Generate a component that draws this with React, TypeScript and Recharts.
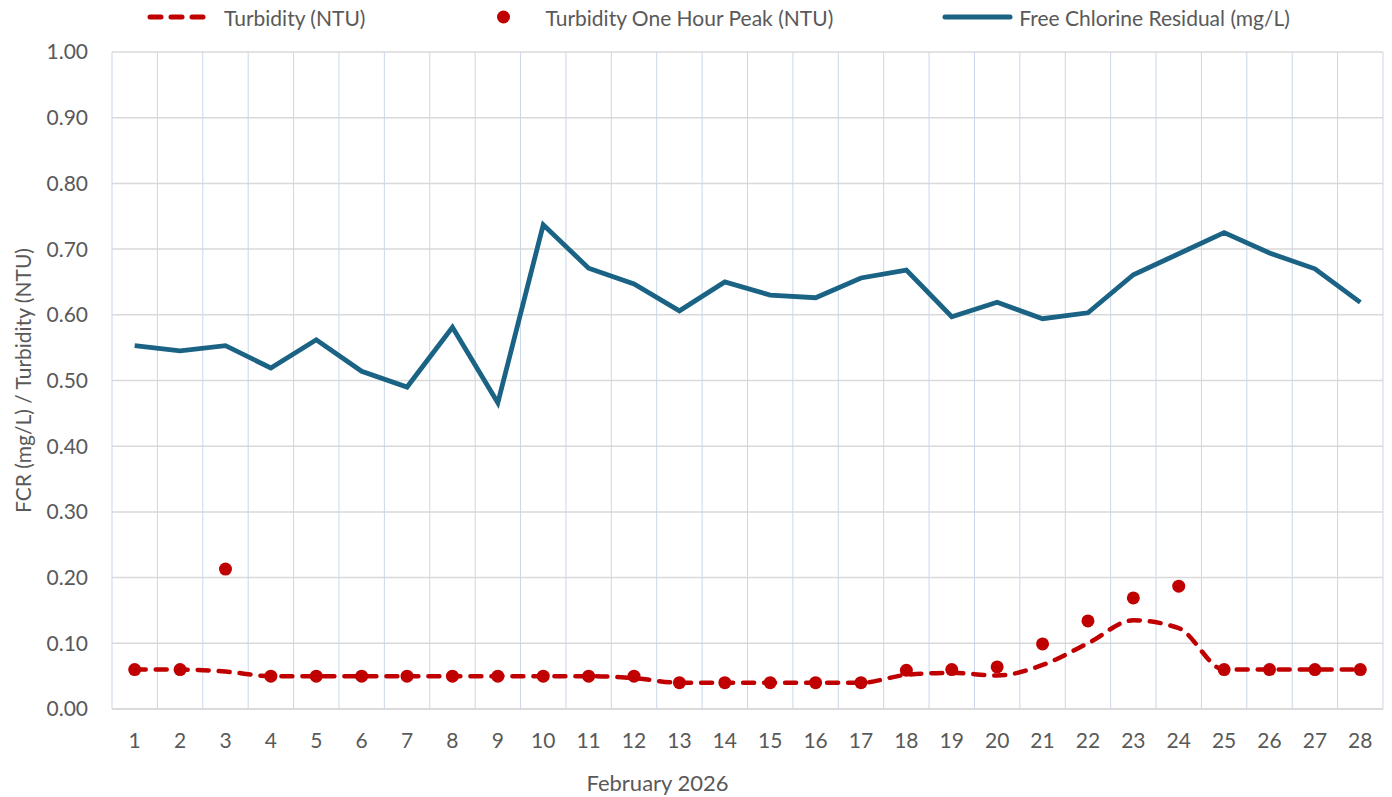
import React from "react";
import {
  ComposedChart,
  Line,
  XAxis,
  YAxis,
  CartesianGrid,
  Legend,
  Label,
} from "recharts";

const days = [
  "1", "2", "3", "4", "5", "6", "7", "8", "9", "10", "11", "12", "13", "14",
  "15", "16", "17", "18", "19", "20", "21", "22", "23", "24", "25", "26", "27", "28",
];

const turbidity = [
  0.06, 0.06, 0.057, 0.05, 0.05, 0.05, 0.05, 0.05, 0.05, 0.05, 0.05, 0.047, 0.04, 0.04,
  0.04, 0.04, 0.04, 0.052, 0.055, 0.051, 0.067, 0.1, 0.135, 0.123, 0.06, 0.06, 0.06, 0.06,
];

const turbidityPeak = [
  0.06, 0.06, 0.213, 0.05, 0.05, 0.05, 0.05, 0.05, 0.05, 0.05, 0.05, 0.05, 0.04, 0.04,
  0.04, 0.04, 0.04, 0.059, 0.06, 0.064, 0.099, 0.134, 0.169, 0.187, 0.06, 0.06, 0.06, 0.06,
];

const fcr = [
  0.553, 0.545, 0.553, 0.519, 0.562, 0.514, 0.49, 0.581, 0.466, 0.737, 0.671, 0.647, 0.606, 0.65,
  0.63, 0.626, 0.656, 0.668, 0.597, 0.619, 0.594, 0.603, 0.661, 0.693, 0.725, 0.694, 0.67, 0.619,
];

const yTicks = [0, 0.1, 0.2, 0.3, 0.4, 0.5, 0.6, 0.7, 0.8, 0.9, 1.0];

const RED = "#c00000";
const BLUE = "#1a6385";
const TEXT = "#595959";

const data = days.map((d, i) => ({
  day: d,
  turbidity: turbidity[i],
  peak: turbidityPeak[i],
  fcr: fcr[i],
}));

const CHART_W = 1392;
const PLOT_W = CHART_W - 112 - 9;
// half a category of padding on each side so points sit in the middle of each cell
const HALF_STEP = PLOT_W / days.length / 2;

function LegendContent() {
  const item = { display: "flex", alignItems: "center" } as const;
  return (
    <div style={{ display: "flex", alignItems: "center", paddingLeft: 147, height: 30, color: TEXT, fontSize: 21 }}>
      <div style={item}>
        <svg width={67} height={10}>
          <line x1={3} y1={5} x2={64} y2={5} stroke={RED} strokeWidth={5} strokeDasharray="11 10" strokeLinecap="round" />
        </svg>
        <span style={{ marginLeft: 10 }}>Turbidity (NTU)</span>
      </div>
      <div style={{ ...item, marginLeft: 105 }}>
        <svg width={67} height={14}>
          <circle cx={33.5} cy={7} r={6.5} fill={RED} />
        </svg>
        <span style={{ marginLeft: 8 }}>Turbidity One Hour Peak (NTU)</span>
      </div>
      <div style={{ ...item, marginLeft: 109 }}>
        <svg width={71} height={10}>
          <line x1={3} y1={5} x2={68} y2={5} stroke={BLUE} strokeWidth={5} strokeLinecap="round" />
        </svg>
        <span style={{ marginLeft: 6 }}>Free Chlorine Residual (mg/L)</span>
      </div>
    </div>
  );
}

export default function App() {
  // vertical gridlines sit on the category boundaries, like Excel
  const boundaries = ({ offset }: any) =>
    data.map((_, i) => offset.left + (i * offset.width) / data.length).concat(offset.left + offset.width);

  return (
    <div style={{ position: "absolute", left: 0, top: 0, fontFamily: "Lato, sans-serif", background: "#fff" }}>
      <ComposedChart
        width={CHART_W}
        height={797}
        data={data}
        margin={{ top: 22, right: 9, bottom: 0, left: 0 }}
      >
        <CartesianGrid vertical={false} stroke="#d9d9d9" strokeWidth={1.5} />
        <CartesianGrid horizontal={false} stroke="#c9d7ea" strokeWidth={1} verticalCoordinatesGenerator={boundaries} />
        <XAxis
          dataKey="day"
          height={88}
          padding={{ left: HALF_STEP, right: HALF_STEP }}
          tickLine={false}
          tickMargin={18}
          axisLine={{ stroke: "#d9d9d9", strokeWidth: 1.5 }}
          tick={{ fill: TEXT, fontSize: 21 }}
          interval={0}
        >
          <Label value="February 2026" position="insideBottom" offset={6} dx={-90} fill={TEXT} fontSize={22} />
        </XAxis>
        <YAxis
          width={112}
          domain={[0, 1]}
          ticks={yTicks}
          tickFormatter={(v: number) => v.toFixed(2)}
          tickLine={false}
          axisLine={false}
          tickMargin={18}
          tick={{ fill: TEXT, fontSize: 21 }}
        >
          <Label
            value="FCR (mg/L) / Turbidity (NTU)"
            angle={-90}
            position="insideLeft"
            offset={24}
            fill={TEXT}
            fontSize={21}
            style={{ textAnchor: "middle" }}
          />
        </YAxis>
        <Legend verticalAlign="top" wrapperStyle={{ top: 2, left: 0, width: CHART_W, height: 30 }} content={() => <LegendContent />} />
        <Line
          dataKey="turbidity"
          type="monotone"
          stroke={RED}
          strokeWidth={4.5}
          strokeDasharray="11 10"
          strokeLinecap="round"
          dot={false}
          activeDot={false}
          isAnimationActive={false}
        />
        <Line
          dataKey="peak"
          stroke="none"
          dot={{ r: 6.5, fill: RED, stroke: "none" }}
          activeDot={false}
          isAnimationActive={false}
        />
        <Line
          dataKey="fcr"
          type="linear"
          stroke={BLUE}
          strokeWidth={4.8}
          dot={false}
          activeDot={false}
          isAnimationActive={false}
        />
      </ComposedChart>
    </div>
  );
}
